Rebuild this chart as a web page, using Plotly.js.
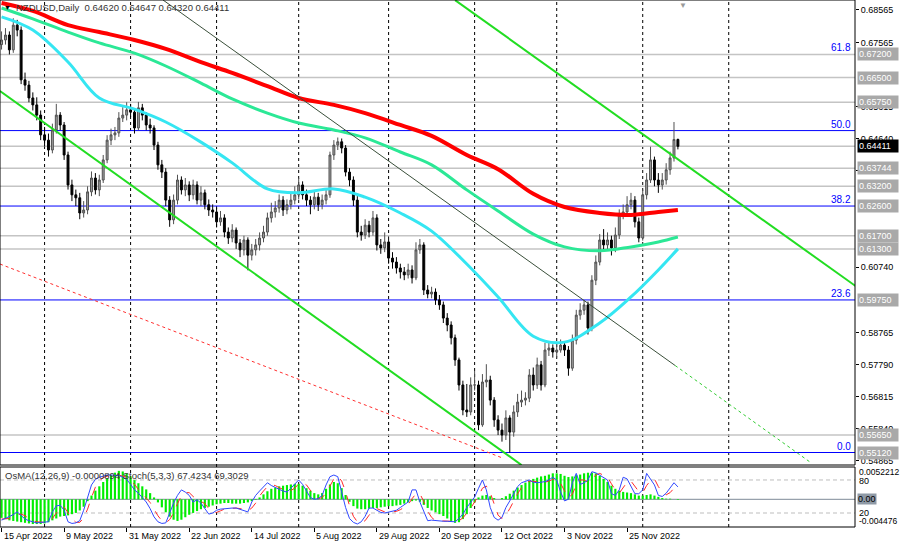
<!DOCTYPE html>
<html><head><meta charset="utf-8">
<script src="https://cdn.plot.ly/plotly-3.0.1.min.js"></script>
<style>html,body{margin:0;padding:0;background:#fff}#chart{width:900px;height:546px}</style>
</head><body><div id="chart"></div>
<script>
// ---- price data (NZDUSD daily) ----
const opens = [0.6750,0.6764,0.6779,0.6734,0.6809,0.6794,0.6643,0.6627,0.6588,0.6567,
0.6536,0.6476,0.6460,0.6430,0.6491,0.6536,0.6506,0.6415,0.6324,0.6294,
0.6285,0.6239,0.6248,0.6303,0.6345,0.6309,0.6339,0.6400,0.6460,0.6476,
0.6482,0.6527,0.6536,0.6552,0.6545,0.6497,0.6558,0.6536,0.6506,0.6497,
0.6445,0.6385,0.6363,0.6278,0.6218,0.6278,0.6339,0.6309,0.6324,0.6294,
0.6324,0.6278,0.6300,0.6264,0.6248,0.6242,0.6212,0.6224,0.6181,0.6163,
0.6187,0.6148,0.6127,0.6157,0.6111,0.6127,0.6142,0.6163,0.6181,0.6224,
0.6242,0.6254,0.6278,0.6248,0.6264,0.6278,0.6294,0.6324,0.6294,0.6278,
0.6264,0.6287,0.6264,0.6278,0.6294,0.6415,0.6445,0.6455,0.6436,0.6363,
0.6339,0.6278,0.6181,0.6172,0.6202,0.6181,0.6224,0.6142,0.6133,0.6151,
0.6102,0.6090,0.6072,0.6060,0.6051,0.6066,0.6042,0.6127,0.6142,0.6005,
0.5993,0.5999,0.5975,0.5960,0.5920,0.5899,0.5860,0.5793,0.5717,0.5641,
0.5635,0.5717,0.5717,0.5596,0.5726,0.5732,0.5671,0.5611,0.5580,0.5565,
0.5617,0.5574,0.5635,0.5665,0.5671,0.5677,0.5747,0.5717,0.5778,0.5717,
0.5823,0.5829,0.5817,0.5823,0.5838,0.5823,0.5768,0.5853,0.5929,0.5944,
0.5960,0.5890,0.6035,0.6090,0.6157,0.6142,0.6157,0.6133,0.6172,0.6233,
0.6242,0.6264,0.6278,0.6212,0.6163,0.6294,0.6339,0.6400,0.6339,0.6324,
0.6339,0.6370,0.6406,0.64620];
const highs = [0.6790,0.6800,0.6790,0.6830,0.6825,0.6805,0.6665,0.6640,0.6605,0.6590,
0.6550,0.6500,0.6480,0.6510,0.6570,0.6545,0.6515,0.6425,0.6340,0.6310,
0.6300,0.6275,0.6320,0.6365,0.6360,0.6355,0.6415,0.6475,0.6495,0.6500,
0.6545,0.6560,0.6575,0.6570,0.6555,0.6576,0.6570,0.6545,0.6525,0.6505,
0.6455,0.6400,0.6375,0.6290,0.6295,0.6355,0.6350,0.6345,0.6335,0.6340,
0.6335,0.6320,0.6310,0.6280,0.6265,0.6255,0.6245,0.6235,0.6195,0.6205,
0.6195,0.6160,0.6170,0.6165,0.6145,0.6160,0.6180,0.6200,0.6240,0.6270,
0.6275,0.6295,0.6290,0.6280,0.6300,0.6320,0.6345,0.6335,0.6310,0.6290,
0.6305,0.6300,0.6295,0.6310,0.6425,0.6460,0.6468,0.6465,0.6445,0.6375,
0.6350,0.6290,0.6200,0.6220,0.6215,0.6245,0.6235,0.6160,0.6180,0.6160,
0.6120,0.6105,0.6085,0.6075,0.6085,0.6080,0.6150,0.6160,0.6150,0.6020,
0.6015,0.6010,0.5990,0.5970,0.5935,0.5910,0.5870,0.5800,0.5730,0.5720,
0.5740,0.5760,0.5730,0.5750,0.5780,0.5745,0.5680,0.5625,0.5600,0.5640,
0.5625,0.5655,0.5690,0.5700,0.5695,0.5765,0.5770,0.5800,0.5790,0.5845,
0.5850,0.5840,0.5845,0.5855,0.5850,0.5835,0.5870,0.5945,0.5965,0.5975,
0.5970,0.6050,0.6110,0.6175,0.6190,0.6180,0.6170,0.6195,0.6250,0.6265,
0.6290,0.6300,0.6290,0.6225,0.6310,0.6360,0.6440,0.6410,0.6360,0.6360,
0.6390,0.6425,0.6515,0.64647];
const lows = [0.6735,0.6750,0.6720,0.6725,0.6775,0.6630,0.6610,0.6575,0.6550,0.6520,
0.6460,0.6440,0.6410,0.6420,0.6480,0.6490,0.6400,0.6310,0.6275,0.6260,
0.6220,0.6225,0.6235,0.6290,0.6295,0.6290,0.6330,0.6390,0.6445,0.6460,
0.6470,0.6515,0.6520,0.6530,0.6480,0.6490,0.6520,0.6490,0.6480,0.6430,
0.6370,0.6345,0.6260,0.6197,0.6205,0.6265,0.6295,0.6290,0.6275,0.6280,
0.6265,0.6260,0.6250,0.6230,0.6225,0.6195,0.6200,0.6165,0.6145,0.6150,
0.6130,0.6105,0.6110,0.6065,0.6095,0.6110,0.6125,0.6150,0.6170,0.6210,
0.6225,0.6240,0.6230,0.6235,0.6250,0.6265,0.6280,0.6280,0.6260,0.6235,
0.6250,0.6245,0.6250,0.6265,0.6285,0.6400,0.6430,0.6420,0.6350,0.6320,
0.6260,0.6165,0.6155,0.6160,0.6165,0.6170,0.6125,0.6115,0.6120,0.6085,
0.6070,0.6055,0.6040,0.6035,0.6040,0.6025,0.6035,0.6115,0.5990,0.5980,
0.5980,0.5960,0.5945,0.5905,0.5880,0.5840,0.5775,0.5700,0.5625,0.5620,
0.5625,0.5700,0.5580,0.5590,0.5710,0.5655,0.5590,0.5565,0.5545,0.5550,
0.5512,0.5560,0.5620,0.5650,0.5655,0.5665,0.5700,0.5705,0.5700,0.5710,
0.5805,0.5800,0.5800,0.5815,0.5805,0.5745,0.5760,0.5840,0.5915,0.5930,
0.5870,0.5880,0.6020,0.6080,0.6125,0.6125,0.6110,0.6120,0.6160,0.6220,
0.6230,0.6250,0.6195,0.6150,0.6155,0.6280,0.6330,0.6320,0.6300,0.6310,
0.6325,0.6355,0.6395,0.64320];
const closes = [0.6764,0.6779,0.6734,0.6809,0.6794,0.6643,0.6627,0.6588,0.6567,0.6536,
0.6476,0.6460,0.6430,0.6491,0.6536,0.6506,0.6415,0.6324,0.6294,0.6285,
0.6239,0.6248,0.6303,0.6345,0.6309,0.6339,0.6400,0.6460,0.6476,0.6482,
0.6527,0.6536,0.6552,0.6545,0.6497,0.6558,0.6536,0.6506,0.6497,0.6445,
0.6385,0.6363,0.6278,0.6218,0.6278,0.6339,0.6309,0.6324,0.6294,0.6324,
0.6278,0.6300,0.6264,0.6248,0.6242,0.6212,0.6224,0.6181,0.6163,0.6187,
0.6148,0.6127,0.6157,0.6111,0.6127,0.6142,0.6163,0.6181,0.6224,0.6242,
0.6254,0.6278,0.6248,0.6264,0.6278,0.6294,0.6324,0.6294,0.6278,0.6264,
0.6287,0.6264,0.6278,0.6294,0.6415,0.6445,0.6455,0.6436,0.6363,0.6339,
0.6278,0.6181,0.6172,0.6202,0.6181,0.6224,0.6142,0.6133,0.6151,0.6102,
0.6090,0.6072,0.6060,0.6051,0.6066,0.6042,0.6127,0.6142,0.6005,0.5993,
0.5999,0.5975,0.5960,0.5920,0.5899,0.5860,0.5793,0.5717,0.5641,0.5635,
0.5717,0.5717,0.5596,0.5726,0.5732,0.5671,0.5611,0.5580,0.5565,0.5617,
0.5574,0.5635,0.5665,0.5671,0.5677,0.5747,0.5717,0.5778,0.5717,0.5823,
0.5829,0.5817,0.5823,0.5838,0.5823,0.5768,0.5853,0.5929,0.5944,0.5960,
0.5890,0.6035,0.6090,0.6157,0.6142,0.6157,0.6133,0.6172,0.6233,0.6242,
0.6264,0.6278,0.6212,0.6163,0.6294,0.6339,0.6400,0.6339,0.6324,0.6339,
0.6370,0.6406,0.6462,0.64411];

// ---- moving averages, read at sample bars ----
const maBars = [0,8,17,25,34,42,51,59,68,76,85,93,102,110,119,127,136,144,153,161,168,173];
const maSlow = [0.6876,0.6852,0.6809,0.6788,0.6764,0.6737,0.6697,0.6664,0.6624,0.6588,0.6567,0.6542,0.6506,0.6473,0.6415,0.6372,0.6297,0.6257,0.6239,0.6233,0.6242,0.6248];
const maMid  = [0.6861,0.6828,0.6788,0.6755,0.6724,0.6685,0.6633,0.6585,0.6542,0.6512,0.6491,0.6467,0.6424,0.6385,0.6309,0.6245,0.6175,0.6136,0.6124,0.6136,0.6151,0.6166];
const maFast = [0.6834,0.6794,0.6697,0.6588,0.6554,0.6515,0.6454,0.6391,0.6312,0.6300,0.6312,0.6287,0.6239,0.6184,0.6084,0.5984,0.5865,0.5847,0.5905,0.5984,0.6066,0.6130];

// ---- oscillators ----
const osma = [-30,-32,-34,-35,-36,-37,-38,-39,-40,-40,
-40,-39,-37,-34,-31,-28,-27,-26,-24,-22,
-18,-12,-3,6,14,21,28,34,39,43,
46,45,42,37,31,26,21,16,10,3,
-5,-13,-21,-28,-33,-35,-33,-29,-25,-22,
-19,-16,-14,-12,-10,-8,-7,-6,-6,-7,
-7,-7,-6,-5,-3,-1,3,8,13,17,
19,21,22,23,24,25,25,22,18,14,
10,8,10,17,24,28,26,18,7,-4,
-11,-15,-16,-16,-15,-14,-14,-13,-12,-11,
-11,-10,-9,-7,-5,-3,-2,-4,-9,-14,
-18,-21,-24,-27,-31,-35,-38,-37,-32,-24,
-14,-5,3,6,7,5,2,0,2,5,
9,14,19,23,27,30,33,35,37,38,
40,42,42,41,38,36,37,39,40,42,
43,43,42,38,33,28,22,17,14,12,
11,10,8,6,6,7,8,6,4,2,
1,1,0,-1]; // units of 0.0001
const stochMain = [7,10,13,17,22,15,9,6,4,2,
3,4,4,22,33,34,25,4,1,2,
6,25,50,71,81,85,87,89,89,89,
88,85,81,72,62,56,48,40,28,13,
4,1,2,20,38,52,62,58,52,40,
44,38,28,18,20,25,27,28,29,29,
29,27,24,22,40,52,60,68,75,70,
66,63,60,58,65,73,80,72,60,48,
45,46,52,71,86,89,86,60,30,10,
3,0,4,14,29,29,25,21,20,22,
23,25,30,35,40,62,62,40,22,6,
7,6,5,5,5,4,4,10,18,30,
40,49,65,80,62,30,12,7,12,30,
42,56,68,75,78,80,76,75,76,77,
80,85,80,58,42,45,75,92,72,75,
80,95,93,89,85,80,55,52,62,85,
82,67,55,55,62,92,82,71,52,50,
56,65,75,67.42];
const stochSignal = [9,9,10,13,17,18,15,10,6,4,
3,3,4,10,20,30,31,21,10,3,
3,11,27,48,67,79,84,87,88,89,
89,87,85,79,72,63,55,48,39,27,
15,6,2,8,20,37,51,57,57,50,
45,41,37,28,22,21,24,27,28,29,
29,28,27,24,29,38,51,60,68,71,
70,66,63,60,61,65,73,75,71,60,
51,46,48,56,70,82,87,78,59,33,
14,4,2,6,16,24,28,25,22,21,
22,23,26,30,35,46,55,55,41,23,
12,6,6,5,5,5,4,6,11,19,
29,40,51,65,69,57,35,16,10,16,
28,43,55,66,74,78,78,77,76,76,
78,81,82,74,60,48,54,71,80,80,
76,83,89,92,89,85,73,62,56,66,
76,78,68,59,57,70,79,82,68,58,
53,57,65,69.30];

// ---- axis labels / levels ----
const dateLabels = ['15 Apr 2022','9 May 2022','31 May 2022','22 Jun 2022','14 Jul 2022','5 Aug 2022','29 Aug 2022','20 Sep 2022','12 Oct 2022','3 Nov 2022','25 Nov 2022'];
const barsPerLabel = 16;
const monthStartBars = [11,33,55,76,99,121,142,164,186];
// price-scale ticks that are not fully hidden behind a level label
const priceTicks = [0.68565,0.67565,0.65615,0.64640,0.63665,0.60740,0.58765,0.57790,0.56815,0.55840,0.54865];
const grayLevels = [0.6720,0.6650,0.6575,0.64411,0.63744,0.6320,0.6170,0.6130,0.5565];
const levelLabels = [0.6720,0.6650,0.6575,0.63744,0.6320,0.6260,0.6170,0.6130,0.5975,0.5565,0.5512];
const lastPrice = 0.64411;
const fibLevels = [0.5512,0.5975,0.6260,0.6489,0.6720];
const fibNames = ['0.0','23.6','38.2','50.0','61.8'];
// trend lines: [bar, price] pairs
const trendA = [[116,0.6885],[220,0.6004]];
const trendB = [[-0.4,0.6609],[133,0.5474]];
const trendC = [[41.3,0.68853],[172.3,0.5776]];
const trendCext = [[172.3,0.5776],[206.8,0.5483]];
const trendRed = [[-0.4,0.6084],[128,0.5496]];

// ---- geometry ----
const X0 = -0.4, X1 = 218.3;
const PMIN = 0.54741, PMAX = 0.68853;
const PH = 527; // plot height px
const mainDom = [(PH-465)/PH, 1];
const oscDom = [0, 60/PH];
const bars = closes.map((_, i) => i);
const py = p => (PH - p) / PH; // pixel-from-top -> paper
const FONT = 'Liberation Sans, Arial, sans-serif';

function seg(pts, color, width, dash) {
  return {type:'scatter', mode:'lines', x: pts.map(p=>p[0]), y: pts.map(p=>p[1]),
    xaxis:'x', yaxis:'y', line:{color, width, dash: dash||'solid'}, hoverinfo:'skip', showlegend:false};
}
function ma(vals, color, width) {
  return {type:'scatter', mode:'lines', x: maBars, y: vals, xaxis:'x', yaxis:'y',
    line:{color, width, shape:'spline', smoothing:1}, hoverinfo:'skip', showlegend:false};
}

const traces = [
  {type:'candlestick', x: bars, open: opens, high: highs, low: lows, close: closes,
   xaxis:'x', yaxis:'y', whiskerwidth:0,
   increasing:{line:{color:'#505050', width:1}, fillcolor:'#a0a0a0'},
   decreasing:{line:{color:'#000000', width:1}, fillcolor:'#000000'},
   hoverinfo:'skip', showlegend:false},
  seg(trendRed, '#ff3030', 1, 'dot'),
  ma(maSlow, '#ff0000', 4),
  ma(maMid, '#2be896', 3),
  ma(maFast, '#35e6f2', 3),
  seg(trendA, '#22dd22', 2),
  seg(trendB, '#22dd22', 2),
  seg(trendC, '#3a4f3a', 1),
  seg(trendCext, '#33cc33', 1, 'dot'),
  {type:'bar', x: bars, y: osma, xaxis:'x2', yaxis:'y2', marker:{color:'#00ee00', line:{width:0}},
   width:0.55, hoverinfo:'skip', showlegend:false},
  {type:'scatter', mode:'lines', x: bars, y: stochSignal, xaxis:'x2', yaxis:'y3',
   line:{color:'#ff2a2a', width:1, dash:'dash'}, hoverinfo:'skip', showlegend:false},
  {type:'scatter', mode:'lines', x: bars, y: stochMain, xaxis:'x2', yaxis:'y3',
   line:{color:'#3048ff', width:1}, hoverinfo:'skip', showlegend:false}
];

const shapes = [];
monthStartBars.forEach(m => shapes.push({type:'line', xref:'x', yref:'paper', x0:m, x1:m, y0:0, y1:1,
  line:{color:'#000', width:1, dash:'3px,3px'}, layer:'below'}));
grayLevels.forEach(v => shapes.push({type:'line', xref:'paper', yref:'y', x0:0, x1:1, y0:v, y1:v,
  line:{color:'#c4c4c4', width:1.5}, layer:'below'}));
fibLevels.slice(0,4).forEach(v => shapes.push({type:'line', xref:'paper', yref:'y', x0:0, x1:1, y0:v, y1:v,
  line:{color:'#0000ff', width:1}, layer:'below'}));
shapes.push({type:'line', xref:'paper', yref:'y3', x0:0, x1:1, y0:80, y1:80, line:{color:'#bdbdbd', width:1, dash:'4px,3px'}, layer:'below'});
shapes.push({type:'line', xref:'paper', yref:'y3', x0:0, x1:1, y0:20, y1:20, line:{color:'#bdbdbd', width:1, dash:'4px,3px'}, layer:'below'});
shapes.push({type:'line', xref:'paper', yref:'y2', x0:0, x1:1, y0:0, y1:0, line:{color:'#7d8a98', width:1}, layer:'below'});
shapes.push({type:'rect', xref:'paper', yref:'paper', x0:0, x1:1, y0:mainDom[0], y1:1, line:{color:'#000', width:1}});
shapes.push({type:'rect', xref:'paper', yref:'paper', x0:0, x1:1, y0:0, y1:oscDom[1], line:{color:'#000', width:1}});

const ann = [];
const A = o => Object.assign({showarrow:false, font:{family:FONT, size:9, color:'#000'}}, o);
ann.push(A({xref:'paper', yref:'paper', x:2/855, y:py(8), xanchor:'left', yanchor:'middle', text:'▼', font:{family:FONT, size:7, color:'#000'}}));
ann.push(A({xref:'paper', yref:'paper', x:14/855, y:py(8), xanchor:'left', yanchor:'middle',
  text:'NZDUSD,Daily  0.64620 0.64647 0.64320 0.64411', font:{family:FONT, size:9.5, color:'#333'}}));
ann.push(A({xref:'paper', yref:'paper', x:683/855, y:py(5), xanchor:'center', yanchor:'middle', text:'▼', font:{family:FONT, size:8, color:'#9a9a9a'}}));
levelLabels.forEach(v => ann.push(A({xref:'paper', yref:'y', x:1, y:v, xanchor:'left', yanchor:'middle', xshift:2,
  text:v.toFixed(5), bgcolor:'#a9a9a9', borderpad:1, width:38, align:'left', font:{family:FONT, size:9, color:'#fff'}})));
ann.push(A({xref:'paper', yref:'y', x:1, y:lastPrice, xanchor:'left', yanchor:'middle', xshift:2,
  text:lastPrice.toFixed(5), bgcolor:'#000', borderpad:1, width:38, align:'left', font:{family:FONT, size:9, color:'#fff'}}));
fibLevels.forEach((v,i) => ann.push(A({xref:'paper', yref:'y', x:1, y:v, xanchor:'right', yanchor:'bottom', xshift:-2, yshift:-1,
  text:fibNames[i], font:{family:FONT, size:10, color:'#0000ff'}})));
ann.push(A({xref:'paper', yref:'paper', x:3/855, y:py(475), xanchor:'left', yanchor:'middle',
  text:'OsMA(12,26,9) -0.0000894 Stoch(5,3,3) 67.4234 69.3029', font:{family:FONT, size:9.5, color:'#333'}}));
[['0.0052212',472,8.5],['80',481,9],['20',513,9],['-0.004476',521,8.5]].forEach(t => ann.push(A({xref:'paper', yref:'paper', x:1, y:py(t[1]),
  xanchor:'left', yanchor:'middle', xshift:2, text:t[0], font:{family:FONT, size:t[2], color:'#000'}})));
ann.push(A({xref:'paper', yref:'paper', x:1, y:py(499), xanchor:'left', yanchor:'middle', xshift:2, text:'0.00', bgcolor:'#8f9aa6', borderpad:0, font:{family:FONT, size:9, color:'#000'}}));
dateLabels.forEach((t,i) => ann.push(A({xref:'x', yref:'paper', x:i*barsPerLabel, y:0, yshift:-9, xanchor:'left', yanchor:'middle', text:t})));

const layout = {
  width:900, height:546, margin:{l:0, r:45, t:0, b:19, pad:0},
  paper_bgcolor:'#fff', plot_bgcolor:'#fff', showlegend:false, hovermode:false,
  font:{family:FONT, size:9, color:'#000'},
  bargap:0.4,
  xaxis:{domain:[0,1], range:[X0,X1], anchor:'y', showgrid:false, zeroline:false, showticklabels:false,
    ticks:'', rangeslider:{visible:false}, showline:false},
  xaxis2:{domain:[0,1], range:[X0,X1], anchor:'y2', showgrid:false, zeroline:false, showticklabels:false,
    ticks:'outside', ticklen:4, tickcolor:'#000', tickvals: dateLabels.map((_,i)=>i*barsPerLabel), showline:false,
    rangeslider:{visible:false}},
  yaxis:{domain:mainDom, range:[PMIN,PMAX], side:'right', anchor:'x', showgrid:false, zeroline:false,
    tickvals:priceTicks, tickformat:'.5f', ticks:'outside', ticklen:3, tickcolor:'#000',
    tickfont:{family:FONT, size:9, color:'#000'}, showline:false},
  yaxis2:{domain:oscDom, range:[-44.76,52.212], anchor:'x2', showgrid:false, zeroline:false, showticklabels:false, ticks:''},
  yaxis3:{range:[-5.45,103.6], overlaying:'y2', anchor:'x2', showgrid:false, zeroline:false, showticklabels:false, ticks:''},
  shapes, annotations: ann
};

Plotly.newPlot('chart', traces, layout, {displayModeBar:false, staticPlot:true});
</script></body></html>
